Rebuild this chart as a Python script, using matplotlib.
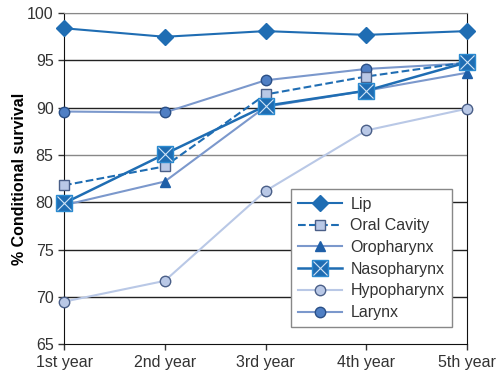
"""Conditional survival by tumour site"""

import matplotlib
matplotlib.use("Agg")
from matplotlib import pyplot as plt
from matplotlib.legend_handler import HandlerTuple

years = ["1st year", "2nd year", "3rd year", "4th year", "5th year"]

lip = [98.4, 97.5, 98.1, 97.7, 98.1]
oral_cavity = [81.8, 83.8, 91.4, 93.3, 94.8]
oropharynx = [79.7, 82.2, 90.1, 91.8, 93.7]
nasopharynx = [79.9, 85.1, 90.2, 91.8, 94.8]
hypopharynx = [69.5, 71.7, 81.2, 87.6, 89.9]
larynx = [89.6, 89.5, 92.9, 94.1, 94.7]

plt.rcParams["font.family"] = ["Liberation Sans", "DejaVu Sans"]
plt.rcParams["font.size"] = 11.5
plt.rcParams["text.color"] = "#333333"

dark = "#1f6db3"
mid = "#7b98cc"
light = "#b9c8e6"

fig = plt.figure(figsize=(5, 3.75), dpi=100)
ax = fig.add_axes([0.128, 0.082, 0.806, 0.883])
x = list(range(len(years)))

# grid lines
for v in [70, 75, 80, 90, 95]:
    ax.axhline(v, color="#222222", lw=1, zorder=0)
for v in [85, 100]:
    ax.axhline(v, color="#888888", lw=1, zorder=0)

common = dict(clip_on=False)
h_lip, = ax.plot(x, lip, "-", color=dark, lw=1.5, marker="D", ms=8.5,
                 mfc=dark, mec=dark, zorder=6, **common)
h_larynx, = ax.plot(x, larynx, "-", color=mid, lw=1.5, marker="o", ms=7.5,
                    mfc="#4f7fc4", mec="#2a4f86", zorder=3, **common)
h_hypo, = ax.plot(x, hypopharynx, "-", color=light, lw=1.5, marker="o", ms=7.5,
                  mfc=light, mec="#4a5f88", zorder=3, **common)
h_oro, = ax.plot(x, oropharynx, "-", color=mid, lw=1.5, marker="^", ms=7,
                 mfc="#1f5fa8", mec="#1f5fa8", zorder=4, **common)
h_oral, = ax.plot(x, oral_cavity, "--", color=dark, lw=1.5, marker="s", ms=7.5,
                  mfc=light, mec="#4a5f88", zorder=4, **common)
h_naso, = ax.plot(x, nasopharynx, "-", color=dark, lw=1.8, marker="s", ms=12,
                  mfc=dark, mec="#2a8ad0", zorder=5, **common)
h_naso_x, = ax.plot(x, nasopharynx, ls="none", marker="x", ms=10, mew=0.8,
                    color="#cfe4f7", zorder=5, **common)

ax.set_xlim(0, 4)
ax.set_ylim(65, 100)
ax.set_yticks([65, 70, 75, 80, 85, 90, 95, 100])
ax.set_xticks(x)
ax.set_xticklabels(years)
ax.tick_params(colors="#333333", labelcolor="#333333", length=4, width=1)
ax.set_ylabel("% Conditional survival", fontweight="bold", fontsize=11.5,
              labelpad=0)
for side in ["left", "bottom", "right"]:
    ax.spines[side].set_color("#111111")
ax.spines["top"].set_color("#888888")

leg = ax.legend(
    [h_lip, h_oral, h_oro, (h_naso, h_naso_x), h_hypo, h_larynx],
    ["Lip", "Oral Cavity", "Oropharynx", "Nasopharynx", "Hypopharynx", "Larynx"],
    handler_map={tuple: HandlerTuple(ndivide=1)},
    loc="upper left", bbox_to_anchor=(0.581, 0.495),
    bbox_transform=fig.transFigure, borderaxespad=0, fancybox=False,
    framealpha=1, edgecolor="#888888", handlelength=2.8, labelspacing=0.42,
    borderpad=0.45, handletextpad=0.5,
)
leg.get_frame().set_linewidth(1)
leg.set_zorder(10)

fig.savefig("out.png", dpi=100)
